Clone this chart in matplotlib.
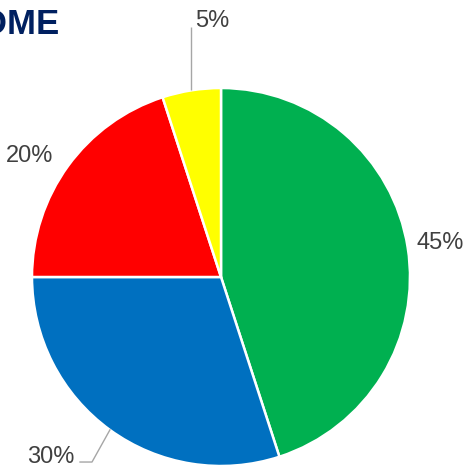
import matplotlib
matplotlib.use("Agg")
import matplotlib.pyplot as plt
import numpy as np

plt.rcParams['font.family'] = ['Liberation Sans', 'DejaVu Sans']

categories = ["Green", "Blue", "Red", "Yellow"]
values = [45, 30, 20, 5]
labels = ["45%", "30%", "20%", "5%"]
colors = ["#00B050", "#0070C0", "#FF0000", "#FFFF00"]
title = "INCOME"

fig = plt.figure(figsize=(4.69, 4.69), dpi=100)
ax = fig.add_axes([0, 0, 1, 1])
ax.set_aspect('equal')
ax.axis('off')

wedges, _ = ax.pie(values, colors=colors, startangle=90, counterclock=False,
                   radius=1.0, center=(0, 0),
                   wedgeprops=dict(edgecolor='white', linewidth=1.8))
ax.set_xlim(-221 / 189, (469 - 221) / 189)
ax.set_ylim(-(469 - 277) / 189, 277 / 189)

lab_color = "#404040"
line_color = "#A6A6A6"
fs = 17

def edge_point(w):
    ang = np.deg2rad((w.theta1 + w.theta2) / 2)
    return np.cos(ang), np.sin(ang)

# 45%
ax.text(1.037, 0.148, labels[0], ha='left', va='baseline', fontsize=fs, color=lab_color)
# 20%
ax.text(-1.1376, 0.608, labels[2], ha='left', va='baseline', fontsize=fs, color=lab_color)
# 5% with leader
x5, y5 = edge_point(wedges[3])
ax.plot([x5, x5], [y5, 1.3228], color=line_color, lw=1.0, solid_capstyle='butt')
ax.text(-0.1376, 1.3228, labels[3], ha='left', va='baseline', fontsize=fs, color=lab_color)
# 30% with leader
x3, y3 = edge_point(wedges[1])
ax.plot([x3, -0.6825, -0.746], [y3, -0.979, -0.979], color=line_color, lw=1.0)
ax.text(-1.0265, -0.984, labels[1], ha='left', va='baseline', fontsize=fs, color=lab_color)

ax.text(-0.852, 1.2857, title, ha='right', va='baseline', fontsize=25,
        fontweight='bold', color="#002060")

fig.savefig("out.png", dpi=100)
